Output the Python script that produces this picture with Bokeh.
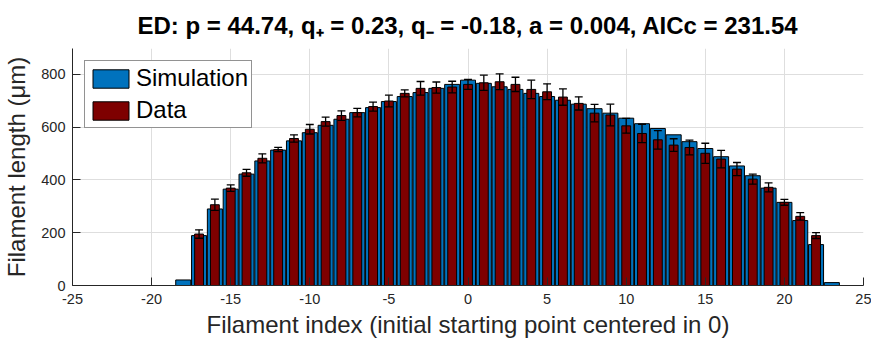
import numpy as np
from bokeh.plotting import figure
from bokeh.models import Range1d, FixedTicker
from bokeh.embed import file_html
from bokeh.resources import INLINE

# ---- data ----
sim_index = list(range(-18, 24))
sim_length = [21, 189, 290, 365, 422, 472, 513, 548, 579, 607,
              630, 655, 674, 697, 716, 731, 747, 762, 778, 766,
              753, 743, 728, 716, 702, 687, 670, 653, 634, 613,
              595, 571, 545, 519, 488, 453, 416, 369, 315, 246,
              155, 11]

data_index = list(range(-17, 23))
data_length = [195, 306, 369, 427, 482, 515, 557, 592, 621, 644,
               655, 678, 699, 728, 747, 750, 752, 762, 768, 772,
               762, 743, 734, 714, 690, 653, 646, 605, 576, 552,
               532, 523, 501, 479, 441, 403, 372, 315, 262, 189]
data_err = [16, 21, 12, 13, 17, 8, 14, 18, 17, 18,
            16, 17, 22, 13, 26, 21, 22, 19, 29, 30,
            27, 35, 30, 31, 25, 33, 41, 28, 35, 35,
            24, 28, 38, 33, 25, 19, 17, 11, 14, 11]

x_ticks = [-25, -20, -15, -10, -5, 0, 5, 10, 15, 20, 25]
y_ticks = [0, 200, 400, 600, 800]

title_text = "ED: p = 44.74, q\u208A = 0.23, q\u208B = -0.18, a = 0.004, AICc = 231.54"
x_label = "Filament index (initial starting point centered in 0)"
y_label = "Filament length (\u03bcm)"

FONT = "Liberation Sans"
AX = "#262626"

p = figure(width=871, height=345, output_backend="svg", toolbar_location=None,
           x_range=Range1d(-25, 25), y_range=Range1d(0, 898),
           min_border_left=71, min_border_right=8, min_border_top=47,
           min_border_bottom=60)
p.outline_line_color = None
p.background_fill_color = "white"
p.border_fill_color = "white"

# bars
p.vbar(x=sim_index, top=sim_length, width=0.95, bottom=0,
       fill_color="#0072BD", line_color="black", line_width=1,
       legend_label="Simulation")
p.vbar(x=data_index, top=data_length, width=0.56, bottom=0,
       fill_color="#7E0000", line_color="black", line_width=1,
       legend_label="Data")

# error bars
xi = np.array(data_index, dtype=float)
yv = np.array(data_length, dtype=float)
ev = np.array(data_err, dtype=float)
p.segment(x0=xi, y0=yv - ev, x1=xi, y1=yv + ev, line_color="black", line_width=1.3)
p.segment(x0=xi - 0.25, y0=yv + ev, x1=xi + 0.25, y1=yv + ev, line_color="black", line_width=1.3)
p.segment(x0=xi - 0.25, y0=yv - ev, x1=xi + 0.25, y1=yv - ev, line_color="black", line_width=1.3)

# axes
for ax in (p.xaxis, p.yaxis):
    ax.axis_line_color = AX
    ax.major_tick_line_color = AX
    ax.minor_tick_line_color = None
    ax.major_tick_in = 8
    ax.major_tick_out = 0
    ax.major_label_text_font = FONT
    ax.major_label_text_font_size = "14.5px"
    ax.major_label_text_color = AX
    ax.axis_label_text_font = FONT
    ax.axis_label_text_font_size = "24px"
    ax.axis_label_text_font_style = "normal"
    ax.axis_label_text_color = AX

p.xaxis.ticker = FixedTicker(ticks=x_ticks)
p.yaxis.ticker = FixedTicker(ticks=y_ticks)
p.xaxis.major_label_overrides = {t: str(t) for t in x_ticks}
p.yaxis.major_label_overrides = {t: str(t) for t in y_ticks}
p.xaxis.major_label_standoff = 8
p.yaxis.major_label_standoff = 7
p.xaxis.axis_label = x_label
p.yaxis.axis_label = y_label
p.xaxis.axis_label_standoff = 4
p.yaxis.axis_label_standoff = 8

p.xgrid.ticker = FixedTicker(ticks=x_ticks)
p.ygrid.ticker = FixedTicker(ticks=y_ticks)
for g in (p.xgrid, p.ygrid):
    g.grid_line_color = "#dedede"
    g.grid_line_width = 1

# legend
lg = p.legend[0]
lg.location = "top_left"
lg.margin = 12
lg.padding = 3
lg.spacing = 4
lg.glyph_width = 45
lg.glyph_height = 23
lg.label_standoff = 3
lg.label_text_font = FONT
lg.label_text_font_size = "24px"
lg.label_text_color = "black"
lg.border_line_color = AX
lg.border_line_width = 1
lg.background_fill_color = "white"
lg.background_fill_alpha = 1.0

# title
p.title.text = title_text
p.title.align = "center"
p.title.text_font = FONT
p.title.text_font_style = "bold"
p.title.text_font_size = "24px"
p.title.text_color = "black"
p.title.standoff = 19

open("out.html", "w").write(file_html(p, INLINE))
